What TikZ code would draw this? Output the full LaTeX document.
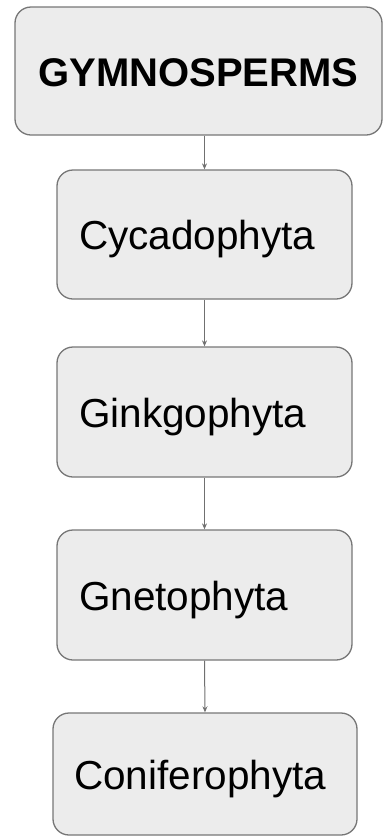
\documentclass[tikz,border=0pt]{standalone}
\usepackage{fontspec}
\setmainfont{Liberation Sans}
\usetikzlibrary{arrows.meta,positioning}

\definecolor{boxfill}{HTML}{ECECEC}
\definecolor{boxline}{HTML}{767676}
\definecolor{arrline}{HTML}{707070}

\tikzset{
  taxon/.style={draw=boxline,fill=boxfill,line width=1.3pt,rounded corners=16pt,
    font=\fontsize{40.5}{48}\selectfont,text height=38pt,text depth=8pt,
    inner xsep=22pt,text width=251pt,align=left},
  link/.style={draw=arrline,line width=1pt,-{Stealth[length=6pt,width=5pt]}}
}

\begin{document}
\begin{tikzpicture}[x=1pt,y=-1pt]
  \useasboundingbox (0,0) rectangle (384,836);
  \node[taxon,font=\fontsize{40}{48}\selectfont\bfseries,text width=367pt,inner xsep=0pt,
    align=center,minimum height=128pt] (gym) at (198.5,71) {GYMNOSPERMS};
  \node[taxon,minimum height=129pt] (cyc) at (204.5,234.5) {Cycadophyta};
  \node[taxon,minimum height=130pt] (gin) at (204.5,412) {Ginkgophyta};
  \node[taxon,minimum height=130pt] (gne) at (204.5,595) {Gnetophyta};
  \node[taxon,minimum height=122pt,inner xsep=21pt,text width=262pt] (con) at (205,774) {Coniferophyta};
  \draw[link] (gym.south -| cyc) -- (cyc.north);
  \draw[link] (cyc.south) -- (gin.north);
  \draw[link] (gin.south) -- (gne.north);
  \draw[link] (gne.south) -- (con.north);
\end{tikzpicture}
\end{document}
